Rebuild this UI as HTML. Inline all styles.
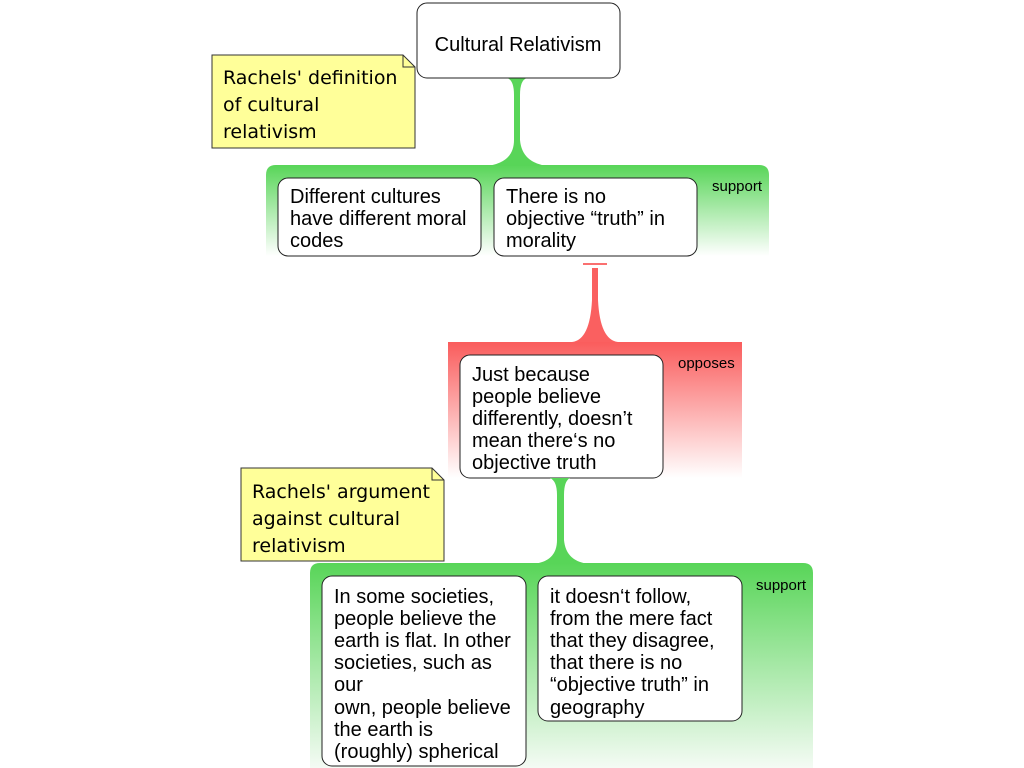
<!DOCTYPE html>
<html><head><meta charset="utf-8"><style>
html,body{margin:0;padding:0;background:#fff;}
svg{display:block;}
text{font-family:"Liberation Sans",sans-serif;fill:#000;}
.n{font-family:"DejaVu Sans",sans-serif;font-size:19px;}
.b{font-size:20px;}
.s{font-size:15px;}
</style></head><body>
<svg width="1024" height="768" viewBox="0 0 1024 768">
<defs>
<linearGradient id="g" x1="0" y1="0" x2="0" y2="1">
<stop offset="0" stop-color="#58d558"/><stop offset="1" stop-color="#ffffff"/></linearGradient>
<linearGradient id="g2" x1="0" y1="0" x2="0" y2="1">
<stop offset="0" stop-color="#58d558"/><stop offset="1" stop-color="#f4fbf4"/></linearGradient>
<linearGradient id="r" x1="0" y1="0" x2="0" y2="1">
<stop offset="0" stop-color="#fa5c5c"/><stop offset="1" stop-color="#ffffff"/></linearGradient>
</defs>

<path d="M266,256 L266,175 Q266,165 276,165 L759,165 Q769,165 769,175 L769,256 Z" fill="url(#g)"/>
<path d="M507,78 L527,78 Q520,80 520,95 L520,140 Q522,163 548,166 L486,166 Q514,163 514,140 L514,95 Q514,80 507,78 Z" fill="#58d558"/>

<rect x="417" y="3" width="203" height="75" rx="10" fill="#fff" stroke="#222" stroke-width="1"/>
<text x="518" y="51" text-anchor="middle" class="b">Cultural Relativism</text>

<path d="M212,55 L403,55 L415,67 L415,148 L212,148 Z" fill="#ffff99" stroke="#333" stroke-width="1"/>
<path d="M403,55 L403,67 L415,67" fill="none" stroke="#333" stroke-width="1"/>
<text class="n" x="223" y="84">Rachels' definition</text>
<text class="n" x="223" y="111">of cultural</text>
<text class="n" x="223" y="138">relativism</text>

<rect x="278" y="178" width="203" height="78" rx="10" fill="#fff" stroke="#222"/>
<text class="b" x="290" y="203">Different cultures</text>
<text class="b" x="290" y="225">have different moral</text>
<text class="b" x="290" y="247">codes</text>
<rect x="494" y="178" width="203" height="78" rx="10" fill="#fff" stroke="#222"/>
<text class="b" x="506" y="203">There is no</text>
<text class="b" x="506" y="225">objective “truth” in</text>
<text class="b" x="506" y="247">morality</text>
<text class="s" x="712" y="191">support</text>

<rect x="583" y="263" width="24" height="2" fill="#fa7070"/>
<path d="M448,478 L448,342 L742,342 L742,478 Z" fill="url(#r)"/>
<path d="M592,268 L598,268 L598,300 Q600,340 618,342 L572,342 Q590,340 592,300 Z" fill="#fa6060"/>
<rect x="460" y="355" width="203" height="123" rx="10" fill="#fff" stroke="#222"/>
<text class="b" x="472" y="381">Just because</text>
<text class="b" x="472" y="403">people believe</text>
<text class="b" x="472" y="425">differently, doesn’t</text>
<text class="b" x="472" y="447">mean there‘s no</text>
<text class="b" x="472" y="469">objective truth</text>
<text class="s" x="678" y="368">opposes</text>

<path d="M310,768 L310,573 Q310,563 320,563 L803,563 Q813,563 813,573 L813,768 Z" fill="url(#g2)"/>
<path d="M550,478 L570,478 Q564,481 564,495 L564,540 Q566,562 590,564 L532,564 Q557,562 557,540 L557,495 Q557,481 550,478 Z" fill="#58d558"/>

<path d="M241,468 L432,468 L444,480 L444,561 L241,561 Z" fill="#ffff99" stroke="#333"/>
<path d="M432,468 L432,480 L444,480" fill="none" stroke="#333"/>
<text class="n" x="252" y="498">Rachels' argument</text>
<text class="n" x="252" y="525">against cultural</text>
<text class="n" x="252" y="552">relativism</text>

<rect x="322" y="576" width="204" height="190" rx="10" fill="#fff" stroke="#222"/>
<text class="b" x="334" y="603">In some societies,</text>
<text class="b" x="334" y="625">people believe the</text>
<text class="b" x="334" y="647">earth is flat. In other</text>
<text class="b" x="334" y="669">societies, such as</text>
<text class="b" x="334" y="691">our</text>
<text class="b" x="334" y="714">own, people believe</text>
<text class="b" x="334" y="736">the earth is</text>
<text class="b" x="334" y="758">(roughly) spherical</text>
<rect x="538" y="576" width="204" height="145" rx="10" fill="#fff" stroke="#222"/>
<text class="b" x="550" y="603">it doesn‘t follow,</text>
<text class="b" x="550" y="625">from the mere fact</text>
<text class="b" x="550" y="647">that they disagree,</text>
<text class="b" x="550" y="669">that there is no</text>
<text class="b" x="550" y="691">“objective truth” in</text>
<text class="b" x="550" y="714">geography</text>
<text class="s" x="756" y="590">support</text>
</svg>
</body></html>
